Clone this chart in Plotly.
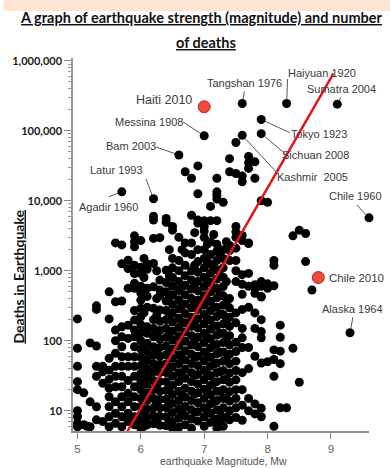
import math
import plotly.graph_objects as go

# Background quakes, grouped by moment magnitude (Mw) column; deaths per quake
column_mw = [5.0, 5.1, 5.15, 5.2, 5.3, 5.4, 5.5, 5.6, 5.7, 5.8, 5.9, 6.0, 6.05, 6.1, 6.2,
             6.25, 6.3, 6.4, 6.45, 6.5, 6.6, 6.65, 6.7, 6.8, 6.85, 6.9, 7.0, 7.05, 7.1,
             7.15, 7.2, 7.25, 7.3, 7.35, 7.4, 7.5, 7.6, 7.7, 7.8, 7.9, 8.0, 8.1, 8.2,
             8.3, 8.4, 8.5, 8.6, 8.7]
column_deaths = [
    [205, 78, 43, 26, 20, 10, 8.2, 6.6, 5.9],
    [18, 6.3],
    [6.0],
    [93, 13.4, 5.9],
    [315, 280, 84, 43, 31, 11.4, 7.4],
    [43, 36, 24.6, 7],
    [500, 205, 56, 38, 28, 21, 15.8, 11.4, 8.2, 5.9],
    [2500, 360, 142, 100, 66, 43, 31, 22, 13.4, 9.2, 6.6],
    [2340, 1260, 370, 158, 114, 82, 59, 43, 31, 22, 15.8, 11.4, 8.2, 5.9],
    [1410, 1070, 560, 167, 108, 59, 43, 27, 17.7, 13.4, 9.2, 7],
    [3150, 2600, 2200, 1200, 910, 660, 560, 270, 197, 142, 114, 82, 59, 43, 31, 22, 15.8, 11.4, 8.2, 6.3],
    [2700, 1120, 915, 600, 480, 380, 290, 220, 170, 130, 100, 76, 58, 44, 34, 26, 20, 15, 11.5, 8.8, 6.8, 5.6],
    [1500, 800, 250, 150, 88, 52, 30, 17, 10, 6],
    [1250, 1050, 560, 430, 300, 158, 128, 92, 70, 53, 40, 31, 24, 18, 14, 10.5, 8, 6.3],
    [6000, 5300, 2900, 1270, 590, 290, 200, 150, 114, 82, 62, 47, 36, 27, 20, 15, 11, 8.5, 6.5],
    [1000, 400, 230, 130, 70, 40, 23, 13, 7.5],
    [2970, 735, 530, 440, 275, 190, 140, 105, 80, 60, 46, 35, 26, 19, 14.5, 11, 8.3, 6.2],
    [5600, 4900, 1020, 680, 500, 370, 270, 200, 150, 112, 84, 63, 47, 35, 26, 19.5, 14.6, 11, 8.2, 6.1],
    [2000, 850, 420, 220, 125, 72, 40, 22, 12.5, 7],
    [4300, 3800, 1500, 1100, 800, 600, 450, 330, 250, 185, 137, 102, 76, 56, 42, 31, 23, 17, 12.7, 9.4, 7, 5.6],
    [3000, 1400, 1000, 700, 520, 385, 285, 210, 155, 115, 85, 63, 47, 35, 26, 19, 14, 10.5, 7.8, 5.8],
    [2000, 600, 320, 180, 100, 56, 31, 17, 9.5],
    [2500, 1800, 1200, 850, 620, 455, 335, 245, 180, 133, 98, 72, 53, 39, 29, 21, 15.6, 11.5, 8.5, 6.3],
    [6200, 2500, 1700, 1000, 740, 545, 400, 295, 217, 160, 118, 87, 64, 47, 35, 26, 19, 14, 10.3, 7.6, 5.6],
    [3500, 1200, 640, 350, 190, 105, 58, 32, 17.5, 9.5],
    [5300, 4800, 2000, 1350, 950, 700, 515, 380, 280, 206, 152, 112, 82, 60, 44, 33, 24, 18, 13, 9.7, 7.1],
    [5200, 4300, 3700, 3000, 2000, 1500, 1100, 810, 595, 438, 322, 237, 174, 128, 94, 69, 51, 37.5, 27.6, 20.3, 15, 11, 8.1, 6],
    [2400, 1300, 700, 380, 205, 110, 60, 33, 18, 10],
    [8300, 5200, 2600, 1700, 1250, 920, 677, 498, 366, 270, 198, 146, 107, 79, 58, 43, 31.5, 23, 17, 12.5, 9.2, 6.8],
    [3300, 1100, 560, 300, 160, 86, 46, 25, 13.5, 7.2],
    [13400, 12000, 10600, 5200, 2400, 1900, 1400, 1030, 758, 557, 410, 302, 222, 163, 120, 88, 65, 48, 35, 26, 19, 14, 10.3, 7.6, 5.6],
    [1600, 850, 450, 240, 128, 68, 36, 19, 10, 6.5],
    [9500, 2000, 1500, 1100, 810, 596, 438, 322, 237, 174, 128, 94, 69, 51, 37.5, 27.6, 20, 15, 11, 8, 6],
    [2600, 700, 360, 190, 100, 53, 28, 15, 8],
    [2300, 1950, 1400, 400, 295, 217, 160, 118, 87, 64, 47, 34.5, 25.4, 18.7, 13.7, 10, 7.4],
    [4300, 3600, 3000, 2100, 1400, 1000, 700, 250, 180, 95, 70, 51, 37.5, 27.6, 20, 15, 11, 8],
    [3200, 2700, 880, 640, 460, 280, 150, 110, 80, 35, 20, 12, 7.3],
    [2500, 2450, 915, 600, 300, 80, 40, 15, 10],
    [630, 560, 475, 250, 150, 60, 12.5, 9],
    [700, 600, 430, 420, 200, 135, 110, 48, 10.8, 8.2],
    [9500, 650, 560, 50],
    [1400, 1200, 610, 74, 54, 31, 6],
    [167, 112, 71, 47, 11],
    [11],
    [3150, 78],
    [3800, 25.5],
    [3400, 1350],
    [530],
]

# Other unlabelled high-toll quakes
upper_mw = [6.9, 6.7, 6.8, 6.9, 7.2, 7.4, 7.4, 7.5, 7.5, 7.6, 7.6, 7.7, 7.7, 7.7, 7.8, 7.8, 7.9]
upper_deaths = [31500, 26000, 21000, 12600, 21000, 40000, 26000, 24500, 68000,
                22500, 18700, 43000, 35000, 29000, 36000, 21000, 10000]

# Named quakes (black)
event_names = ["Tangshan 1976", "Haiyuan 1920", "Sumatra 2004", "Messina 1908", "Bam 2003",
               "Latur 1993", "Agadir 1960", "Tokyo 1923", "Sichuan 2008", "Kashmir\u00a0 2005",
               "Chile 1960", "Alaska 1964"]
event_mw = [7.6, 8.3, 9.1, 7.0, 6.6, 6.2, 5.7, 7.9, 7.9, 7.6, 9.6, 9.3]
event_deaths = [245000, 245000, 240000, 85000, 45000, 10700, 13400, 145000, 91000, 86000, 5700, 130]

# Highlighted quakes (red)
highlight_names = ["Haiti 2010", "Chile 2010"]
highlight_mw = [7.0, 8.8]
highlight_deaths = [220000, 800]

# Trend line end points
trend_mw = [5.77, 9.04]
trend_deaths = [4.75, 660000]

y_tick_vals = [10, 100, 1000, 10000, 100000, 1000000]
y_tick_text = ["10", "100", "1,000", "10,000", "100,000", "1,000,000"]
x_tick_vals = [5, 6, 7, 8, 9]

# ---- layout geometry (pixels) ----
W, H = 390, 468
ML, MR, MT, MB = 70, 21, 58, 37
PW, PH = W - ML - MR, H - MT - MB


def px(xp):
    return (xp - ML) / PW


def py(yp):
    return (H - MB - yp) / PH


bg_x, bg_y = [], []
for mw, ds in zip(column_mw, column_deaths):
    bg_x += [mw] * len(ds)
    bg_y += ds
bg_x += upper_mw
bg_y += upper_deaths
bg_x += event_mw
bg_y += event_deaths

fig = go.Figure()
fig.add_trace(go.Scatter(
    x=bg_x, y=bg_y, mode="markers", cliponaxis=False,
    marker=dict(size=9, color="#000000", line=dict(width=0)),
    hoverinfo="skip", showlegend=False))
fig.add_trace(go.Scatter(
    x=trend_mw, y=trend_deaths, mode="lines",
    line=dict(color="#e3141a", width=2.5), hoverinfo="skip", showlegend=False))
fig.add_trace(go.Scatter(
    x=highlight_mw, y=highlight_deaths, mode="markers", cliponaxis=False,
    marker=dict(size=12, color="#f0493d", line=dict(width=1, color="#b3261e")),
    hoverinfo="skip", showlegend=False))

# label placement: text centre shift and leader tail offset (pixels)
label_style = {
    "Tangshan 1976": dict(dx=2, dy=21, lead=(2.3, -12.6)),
    "Haiyuan 1920": dict(dx=35, dy=31, lead=(1, -25)),
    "Sumatra 2004": dict(dx=4, dy=15, lead=(3.7, -7.3)),
    "Messina 1908": dict(dx=-55, dy=14, lead=(-21.6, -14)),
    "Bam 2003": dict(dx=-48, dy=9, lead=(-23.3, -8.3)),
    "Latur 1993": dict(dx=-37, dy=29, lead=(-7.7, -20.3)),
    "Agadir 1960": dict(dx=-13, dy=-15, lead=(-13.3, 5)),
    "Tokyo 1923": dict(dx=58, dy=-15, lead=(29, 13.4)),
    "Sichuan 2008": dict(dx=54.5, dy=-21.7, lead=(24, 20)),
    "Kashmir\u00a0 2005": dict(dx=70, dy=-41.4, lead=(36.3, 39)),
    "Chile 1960": dict(dx=-14, dy=21.6, lead=(-12.6, -13.3)),
    "Alaska 1964": dict(dx=3, dy=24, lead=(3, -16)),
}

label_font = dict(family="Liberation Sans, Arial", size=11, color="#3a3a3a")
for name, mw, d in zip(event_names, event_mw, event_deaths):
    st = label_style[name]
    ly = math.log10(d)  # annotations on a log axis take log10 positions
    fig.add_annotation(x=mw, y=ly, xref="x", yref="y", text=name, showarrow=False,
                       xanchor="center", yanchor="middle",
                       xshift=st["dx"], yshift=st["dy"], font=label_font)
    ax, ay = st["lead"]
    fig.add_annotation(x=mw, y=ly, xref="x", yref="y", text="", showarrow=True,
                       arrowhead=0, arrowwidth=1, arrowcolor="#555555",
                       ax=ax, ay=ay, standoff=4, borderpad=0)

fig.add_annotation(x=highlight_mw[0], y=math.log10(highlight_deaths[0]), xref="x", yref="y",
                   text=highlight_names[0], showarrow=False, xanchor="center",
                   yanchor="middle", xshift=-40, yshift=7,
                   font=dict(family="Liberation Sans, Arial", size=12.5, color="#3a3a3a"))
fig.add_annotation(x=highlight_mw[1], y=math.log10(highlight_deaths[1]), xref="x", yref="y",
                   text=highlight_names[1], showarrow=False, xanchor="left",
                   yanchor="middle", xshift=9,
                   font=dict(family="Liberation Sans, Arial", size=11.5, color="#3a3a3a"))

# titles
title_font = dict(family="Lato", size=14.5, color="#111111", weight="bold")
fig.add_annotation(xref="paper", yref="paper", x=px(200), y=py(18), showarrow=False,
                   xanchor="center", yanchor="middle",
                   text="<u>A graph of earthquake strength (magnitude) and number</u>",
                   font=title_font)
fig.add_annotation(xref="paper", yref="paper", x=px(204), y=py(43), showarrow=False,
                   xanchor="center", yanchor="middle",
                   text="<u>of deaths</u>", font=title_font)
fig.add_annotation(xref="paper", yref="paper", x=px(14), y=py(277), showarrow=False,
                   xanchor="center", yanchor="middle",
                   text="<u>Deaths in Earthquake</u>", textangle=-90,
                   font=dict(family="Lato", size=14, color="#111111", weight="bold"))
fig.add_annotation(xref="paper", yref="paper", x=px(222), y=py(461), showarrow=False,
                   xanchor="center", yanchor="middle",
                   text="earthquake Magnitude, Mw",
                   font=dict(family="Liberation Sans, Arial", size=10.5, color="#555555"))

# peach band across the top
fig.add_shape(type="rect", xref="paper", yref="paper", x0=px(0), x1=px(W), y0=py(11), y1=py(0),
              fillcolor="#fde4d3", line=dict(width=0), layer="below")

fig.update_layout(
    width=W, height=H, margin=dict(l=ML, r=MR, t=MT, b=MB, pad=0),
    paper_bgcolor="white", plot_bgcolor="white", showlegend=False,
    xaxis=dict(range=[4.93, 9.60], tickvals=x_tick_vals, ticks="outside", ticklen=6,
               tickcolor="#888888", showline=True, linecolor="#8c8c8c", linewidth=1.5,
               showgrid=False, zeroline=False,
               tickfont=dict(family="Liberation Sans, Arial", size=11.5, color="#666666")),
    yaxis=dict(type="log", range=[0.71, 6.04], tickvals=y_tick_vals, ticktext=y_tick_text,
               ticks="outside", ticklen=7, tickcolor="#888888", showline=True,
               linecolor="#9a9a9a", linewidth=1.5, showgrid=False, zeroline=False,
               tickfont=dict(family="Lato", size=11, color="#1a1a1a", weight="bold"),
               minor=dict(ticks="outside", ticklen=3.5, tickcolor="#999999", dtick="D1",
                          showgrid=False)),
)

fig.write_html("out.html")
